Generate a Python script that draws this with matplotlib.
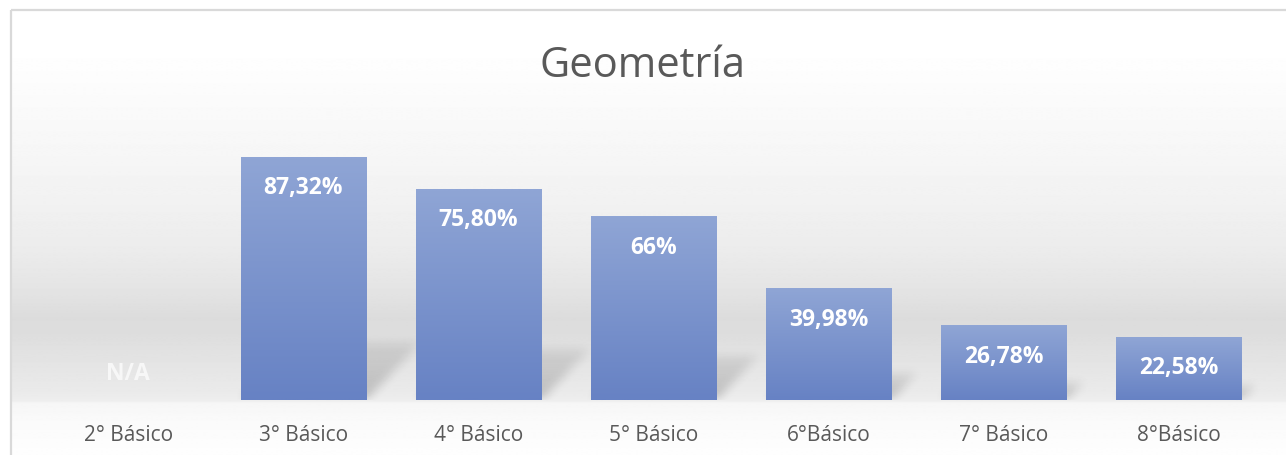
import numpy as np
import matplotlib
matplotlib.use("Agg")
import matplotlib.pyplot as plt
from matplotlib.patches import Rectangle

plt.rcParams['font.family'] = ['Open Sans', 'DejaVu Sans']

# data
categories = ["2° Básico", "3° Básico", "4° Básico", "5° Básico", "6°Básico", "7° Básico", "8°Básico"]
values = [None, 87.32, 75.80, 66, 39.98, 26.78, 22.58]
labels = ["N/A", "87,32%", "75,80%", "66%", "39,98%", "26,78%", "22,58%"]
title = "Geometría"

W, H = 1286, 456
fig = plt.figure(figsize=(W / 100, H / 100), dpi=100)

# background gradient (excel style) on a full figure axes
bg = fig.add_axes([0, 0, 1, 1])
bg.set_xlim(0, W)
bg.set_ylim(H, 0)
bg.axis('off')
rows = np.arange(H)
prof_y = [11, 50, 100, 150, 200, 250, 290, 315, 330, 360, 390, 400, 402, 420, 456]
prof_v = [255, 254, 250, 246, 241, 235, 227, 220, 221, 228, 234, 238, 246, 250, 254]
grey = np.interp(rows, prof_y, prof_v) / 255.0
img = np.repeat(grey[:, None], 2, axis=1)
bg.imshow(img, cmap='gray', vmin=0, vmax=1, extent=(11, W + 5, H, 11),
          aspect='auto', interpolation='bilinear')
bg.add_patch(Rectangle((11, 11), W, H, fill=False, edgecolor='#d9d9d9', lw=1.6))

# main axes
left, base, right, top = 40.5, 401, 1266.5, 123
ax = fig.add_axes([left / W, (H - base) / H, (right - left) / W, (base - top) / H])
ax.patch.set_alpha(0)
for s in ax.spines.values():
    s.set_visible(False)
ax.set_xlim(-0.5, len(categories) - 0.5)
ax.set_ylim(0, 100)
ax.set_yticks([])

x = np.arange(len(categories))
vals = [v if v is not None else 0 for v in values]
bars = ax.bar(x, vals, width=0.714, color='none', edgecolor='none', zorder=3)

# perspective shadow behind bars
px_x = (right - left) / (ax.get_xlim()[1] - ax.get_xlim()[0])
px_y = (base - top) / 100.0
nx, ny = int(right - left), int(base - top)
XX, YY = np.meshgrid(np.arange(nx) + 0.5, np.arange(ny) + 0.5)
mask = np.zeros((ny, nx))
for b in bars:
    h = b.get_height() * px_y
    if h <= 0:
        continue
    x0 = (b.get_x() + 0.5) * px_x
    x1 = x0 + b.get_width() * px_x
    hp = 0.24 * h
    sh = 0.95 * hp
    shift = sh * YY / hp
    inside = (YY <= hp) & (XX >= x0 + shift) & (XX <= x1 + shift)
    fade = np.clip(1.0 - 0.6 * YY / hp, 0, 1)
    mask = np.maximum(mask, inside * fade)


def box_blur(a, r):
    k = np.ones(2 * r + 1) / (2 * r + 1)
    a = np.apply_along_axis(lambda m: np.convolve(m, k, mode='same'), 0, a)
    a = np.apply_along_axis(lambda m: np.convolve(m, k, mode='same'), 1, a)
    return a


mask = box_blur(box_blur(mask, 5), 5)
shadow = np.zeros((ny, nx, 4))
shadow[..., 3] = 0.2 * mask
ax.imshow(shadow, extent=(ax.get_xlim()[0], ax.get_xlim()[1], 0, 100),
          origin='lower', aspect='auto', zorder=1, interpolation='bilinear')

# gradient bars
c_top = np.array([143, 165, 213]) / 255.0
c_bot = np.array([103, 130, 196]) / 255.0
for b in bars:
    if b.get_height() <= 0:
        continue
    t = np.linspace(0, 1, 64)[:, None]
    grad = (c_bot * (1 - t) + c_top * t)[:, None, :]
    grad = np.repeat(grad, 2, axis=1)
    ax.imshow(grad, extent=(b.get_x(), b.get_x() + b.get_width(), 0, b.get_height()),
              origin='lower', aspect='auto', zorder=2, interpolation='bilinear')

ax.set_xlim(-0.5, len(categories) - 0.5)
ax.set_ylim(0, 100)

# data labels
for xi, v, lab in zip(x, values, labels):
    if v is None:
        ax.annotate(lab, (xi, 0), xytext=(0, 27), textcoords='offset pixels',
                    ha='center', va='center', color='#f7f7f7', fontsize=16.5,
                    fontweight='bold', zorder=4)
    else:
        ax.annotate(lab, (xi, v), xytext=(0, -30), textcoords='offset pixels',
                    ha='center', va='center', color='white', fontsize=16.5,
                    fontweight='bold', zorder=4)

ax.set_xticks(x, categories)
ax.tick_params(axis='x', length=0, pad=17, labelsize=15, labelcolor='#595959')

fig.text(643 / W, 1 - 66 / H, title, ha='center', va='center', fontsize=30, color='#595959')

fig.savefig("out.png", dpi=100)
